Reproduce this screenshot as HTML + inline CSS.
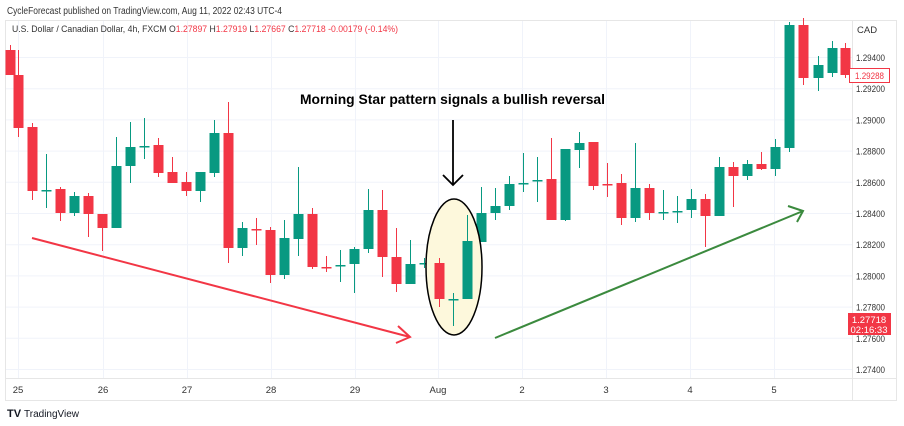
<!DOCTYPE html>
<html><head><meta charset="utf-8"><style>
body{margin:0;background:#fff;width:904px;height:426px;overflow:hidden;font-family:"Liberation Sans",sans-serif}
svg{display:block}
</style></head><body>
<svg id="s" width="904" height="426" viewBox="0 0 904 426" xmlns="http://www.w3.org/2000/svg" font-family="Liberation Sans, sans-serif">
<rect width="904" height="426" fill="#fff"/>
<text x="7" y="14" font-size="10" fill="#333" textLength="275" lengthAdjust="spacingAndGlyphs">CycleForecast published on TradingView.com, Aug 11, 2022 02:43 UTC-4</text>
<rect x="5.5" y="20.5" width="891" height="380" fill="#fff" stroke="#e6e6e6"/>
<g id="grid" stroke="#f0f3fa" stroke-width="1"></g>
<text x="12" y="32" font-size="9.5" fill="#333" textLength="386" lengthAdjust="spacingAndGlyphs">U.S. Dollar / Canadian Dollar, 4h, FXCM  O<tspan fill="#f23645">1.27897</tspan>  H<tspan fill="#f23645">1.27919</tspan>  L<tspan fill="#f23645">1.27667</tspan>  C<tspan fill="#f23645">1.27718</tspan>  <tspan fill="#f23645">-0.00179 (-0.14%)</tspan></text>
<g id="axis" font-size="9.5" fill="#333"></g>
<g id="c"></g>
<ellipse cx="454" cy="267" rx="28" ry="68" fill="#fdf8dc" stroke="#000" stroke-width="1.5"/>
<g id="c2"></g>
<text x="300" y="104" font-size="14" font-weight="bold" fill="#000" textLength="305" lengthAdjust="spacingAndGlyphs">Morning Star pattern signals a bullish reversal</text>
<line x1="453" y1="120" x2="453" y2="185" stroke="#000" stroke-width="1.8"/>
<polyline points="443,175 453,185 463,175" fill="none" stroke="#000" stroke-width="1.8"/>
<line x1="32" y1="238" x2="410" y2="337" stroke="#f23645" stroke-width="2"/>
<polyline points="398,326 410,337 396,343" fill="none" stroke="#f23645" stroke-width="2"/>
<line x1="495" y1="338" x2="803" y2="211" stroke="#3b8a3e" stroke-width="2"/>
<polyline points="788,206 803,211 797,222" fill="none" stroke="#3b8a3e" stroke-width="2"/>
<rect x="849.5" y="68.5" width="40" height="14" fill="#fff" stroke="#f23645"/>
<text x="855" y="79" font-size="9.5" fill="#f23645" textLength="29" lengthAdjust="spacingAndGlyphs">1.29288</text>
<rect x="848" y="313" width="43" height="22" fill="#f23645"/>
<text x="869" y="323" font-size="9.5" fill="#fff" text-anchor="middle">1.27718</text>
<text x="869" y="333" font-size="9.5" fill="#fff" text-anchor="middle">02:16:33</text>
<text x="857" y="33" font-size="9.5" fill="#333">CAD</text>
<text x="7" y="417" font-size="11" font-weight="bold" fill="#131722">TV</text>
<text x="24" y="417" font-size="10" fill="#131722">TradingView</text>
</svg>
<script>
const NS="http://www.w3.org/2000/svg";
function el(p,t,a,txt){const e=document.createElementNS(NS,t);for(const k in a)e.setAttribute(k,a[k]);if(txt)e.textContent=txt;p.appendChild(e);return e;}
const g=document.getElementById('grid'),ax=document.getElementById('axis');
for(let k=0;k<11;k++){const y=57+k*31.2;el(g,'line',{x1:6,x2:852,y1:y+0.5,y2:y+0.5});
el(ax,'text',{x:856,y:y+4,textLength:29,lengthAdjust:'spacingAndGlyphs'},(1.294-k*0.002).toFixed(5));}
const dx=[18,103,187,271,355,438,522,606,690,774],dl=['25','26','27','28','29','Aug','2','3','4','5'];
dx.forEach((x,i)=>{el(g,'line',{x1:x+0.5,x2:x+0.5,y1:21,y2:378});el(ax,'text',{x:x,y:393,'text-anchor':'middle'},dl[i]);});
el(g,'line',{x1:852.5,x2:852.5,y1:21,y2:400,stroke:'#e6e6e6'});
el(g,'line',{x1:6,x2:896,y1:378.5,y2:378.5,stroke:'#e6e6e6'});
const C=[[10,0,50,75,45,75],[18,0,75,128,50,137],[32,0,127,191,123,200],[46,1,190,190,154,208],[60,0,189,213,187,221],[74,1,196,213,192,216],[88,0,196,214,193,237],[102,0,214,228,214,251],[116,1,166,228,137,228],[130,1,147,166,122,183],[144,1,146,146,118,159],[158,0,145,173,138,177],[172,0,172,183,157,183],[186,0,182,191,172,196],[200,1,172,191,172,202],[214,1,133,173,120,177],[228,0,133,248,102,263],[242,1,228,248,222,256],[256,0,229,229,218,245],[270,0,230,275,227,283],[284,1,238,275,220,279],[298,1,214,239,167,256],[312,0,214,267,208,269],[326,0,267,267,256,272],[340,1,265,265,250,282],[354,1,249,264,247,293],[368,1,210,249,189,253],[382,0,210,257,190,277],[396,0,257,284,228,292],[410,1,264,284,240,284],[424,1,263,263,258,268],[439,0,263,299,258,307],[453,1,299,299,293,326],[467,1,241,299,215,299],[481,1,213,242,187,242],[495,1,206,213,188,220],[509,1,184,206,176,210],[523,1,183,183,153,192],[537,1,180,180,157,202],[551,0,179,220,138,220],[565,1,149,220,149,221],[579,1,143,150,132,168],[593,0,142,186,142,190],[607,0,184,184,163,197],[621,0,183,218,174,225],[635,1,188,218,143,222],[649,0,188,213,184,220],[663,1,212,212,190,220],[677,1,211,211,196,223],[691,1,199,210,189,218],[705,0,199,216,194,247],[719,1,167,216,157,216],[733,0,167,176,162,207],[747,1,164,176,160,180],[761,0,164,169,152,170],[775,1,147,169,139,176],[789,1,25,148,22,152],[803,0,25,78,18,85],[818,1,65,78,56,91],[832,1,48,73,41,77],[845,0,48,75,43,78]];
C.forEach(c=>{const inE=c[0]>=436&&c[0]<=470;const p=document.getElementById(inE?'c2':'c');const col=c[1]?'#089981':'#f23645';
el(p,'line',{x1:c[0]+0.5,x2:c[0]+0.5,y1:c[4],y2:c[5],stroke:col,'stroke-width':1});
el(p,'rect',{x:c[0]-4.5,y:c[2],width:10,height:Math.max(1.5,c[3]-c[2]),fill:col});});
</script>
</body></html>
